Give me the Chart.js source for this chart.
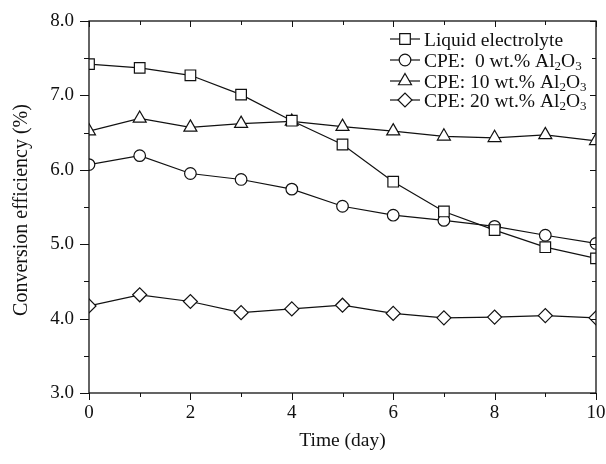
<!DOCTYPE html>
<html>
<head>
<meta charset="utf-8">
<script src="https://cdn.jsdelivr.net/npm/chart.js@4.4.1/dist/chart.umd.min.js"></script>
<style>
  html, body { margin: 0; padding: 0; background: #fff; }
  #wrap { width: 606px; height: 464px; }
</style>
</head>
<body>
<div id="wrap"><canvas id="chart" width="606" height="464"></canvas></div>
<script>
const days = [0, 1, 2, 3, 4, 5, 6, 7, 8, 9, 10];
const liquid = [7.42, 7.37, 7.27, 7.01, 6.66, 6.34, 5.84, 5.44, 5.19, 4.96, 4.81];
const cpe0 = [6.07, 6.19, 5.95, 5.87, 5.74, 5.51, 5.39, 5.32, 5.24, 5.12, 5.01];
const cpe10 = [6.52, 6.69, 6.57, 6.62, 6.65, 6.58, 6.52, 6.45, 6.43, 6.47, 6.39];
const cpe20 = [4.17, 4.32, 4.23, 4.08, 4.13, 4.18, 4.07, 4.01, 4.02, 4.04, 4.01];

const SERIF = '"Liberation Serif", "Times New Roman", serif';

// legend entries drawn by hand because of the Al2O3 subscripts
const legendItems = [
    { style: 'rect', radius: 7.5, parts: [['Liquid electrolyte', false]] },
    { style: 'circle', radius: 5.8, parts: [['CPE:  0 wt.% Al', false], ['2', true], ['O', false], ['3', true]] },
    { style: 'triangle', radius: 7.5, parts: [['CPE: 10 wt.% Al', false], ['2', true], ['O', false], ['3', true]] },
    { style: 'rectRot', radius: 7, parts: [['CPE: 20 wt.% Al', false], ['2', true], ['O', false], ['3', true]] }
];

function toPoints(arr) {
    return arr.map((v, i) => ({ x: days[i], y: v }));
}

function makeSet(label, arr, item) {
    return {
        label: label,
        data: toPoints(arr),
        borderColor: '#111',
        borderWidth: 1.2,
        backgroundColor: '#fff',
        pointStyle: item.style,
        pointRadius: item.radius,
        pointHoverRadius: item.radius,
        pointBorderColor: '#111',
        pointBackgroundColor: '#fff',
        pointBorderWidth: 1.2,
        tension: 0,
        fill: false
    };
}

const framePlugin = {
    id: 'frame',
    afterDraw(chart) {
        const ctx = chart.ctx;
        const a = chart.chartArea;
        const xs = chart.scales.x;
        const ys = chart.scales.y;
        ctx.save();
        ctx.strokeStyle = '#111';
        ctx.lineWidth = 1.3;
        ctx.strokeRect(a.left, a.top, a.right - a.left, a.bottom - a.top);

        ctx.lineWidth = 1;
        ctx.beginPath();
        // x ticks: outward on bottom, inward on top
        for (let d = 0; d <= 10; d++) {
            const px = Math.round(xs.getPixelForValue(d)) + 0.5;
            const major = d % 2 === 0;
            ctx.moveTo(px, a.bottom); ctx.lineTo(px, a.bottom + (major ? 7 : 4));
            ctx.moveTo(px, a.top); ctx.lineTo(px, a.top + (major ? 6 : 4));
        }
        // y ticks: outward on left, inward on right
        for (let v = 3; v <= 8.001; v += 0.5) {
            const py = Math.round(ys.getPixelForValue(v)) + 0.5;
            const major = Math.abs(v - Math.round(v)) < 0.01;
            ctx.moveTo(a.left, py); ctx.lineTo(a.left - (major ? 9 : 5), py);
            ctx.moveTo(a.right, py); ctx.lineTo(a.right - (major ? 6 : 4), py);
        }
        ctx.stroke();

        // axis titles
        ctx.fillStyle = '#111';
        ctx.textAlign = 'center';
        ctx.textBaseline = 'middle';
        ctx.font = '19.5px ' + SERIF;
        ctx.fillText('Time (day)', (a.left + a.right) / 2, 441);
        ctx.save();
        ctx.translate(22, (a.top + a.bottom) / 2 + 3);
        ctx.rotate(-Math.PI / 2);
        ctx.font = '20px ' + SERIF;
        ctx.fillText('Conversion efficiency (%)', 0, 0);
        ctx.restore();

        // legend
        const lx0 = 390, lx1 = 420, mx = 405, tx = 424;
        const rows = [39, 60, 81, 100];
        legendItems.forEach((item, i) => {
            const y = rows[i];
            ctx.strokeStyle = '#111';
            ctx.lineWidth = 1.2;
            ctx.beginPath();
            ctx.moveTo(lx0, y); ctx.lineTo(lx1, y);
            ctx.stroke();
            ctx.fillStyle = '#fff';
            Chart.helpers.drawPoint(ctx, { pointStyle: item.style, radius: item.radius, borderWidth: 1.2 }, mx, y);
            ctx.fillStyle = '#111';
            ctx.textAlign = 'left';
            ctx.textBaseline = 'alphabetic';
            let x = tx;
            item.parts.forEach(([txt, sub]) => {
                ctx.font = (sub ? '13px ' : '19.5px ') + SERIF;
                ctx.fillText(txt, x, y + (sub ? 10 : 6.5));
                x += ctx.measureText(txt).width;
            });
        });
        ctx.restore();
    }
};

new Chart(document.getElementById('chart'), {
    type: 'line',
    data: {
        datasets: [
            makeSet('Liquid electrolyte', liquid, legendItems[0]),
            makeSet('CPE: 0 wt.% Al2O3', cpe0, legendItems[1]),
            makeSet('CPE: 10 wt.% Al2O3', cpe10, legendItems[2]),
            makeSet('CPE: 20 wt.% Al2O3', cpe20, legendItems[3])
        ]
    },
    options: {
        responsive: false,
        animation: false,
        layout: { padding: { left: 0, right: 10, top: 21, bottom: 0 } },
        plugins: {
            legend: { display: false },
            tooltip: { enabled: false }
        },
        scales: {
            x: {
                type: 'linear',
                min: 0,
                max: 10,
                grid: { display: false, drawTicks: false },
                border: { display: false },
                ticks: {
                    stepSize: 2,
                    padding: 9,
                    color: '#111',
                    font: { family: SERIF, size: 19 }
                },
                afterFit(scale) {
                    scale.height = 71;
                    scale.paddingLeft = 0;
                    scale.paddingRight = 0;
                }
            },
            y: {
                min: 3,
                max: 8,
                grid: { display: false, drawTicks: false },
                border: { display: false },
                ticks: {
                    stepSize: 1,
                    padding: 15,
                    color: '#111',
                    font: { family: SERIF, size: 19 },
                    callback: v => Number(v).toFixed(1)
                },
                afterFit(scale) {
                    scale.width = 89;
                    scale.paddingTop = 0;
                    scale.paddingBottom = 0;
                }
            }
        }
    },
    plugins: [framePlugin]
});
</script>
</body>
</html>
